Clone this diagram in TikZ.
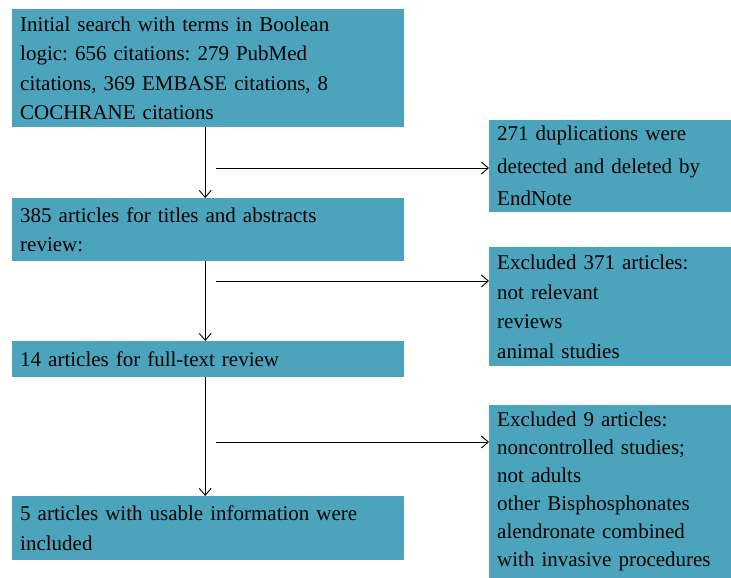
\documentclass[tikz,border=0pt]{standalone}
\usepackage{fontspec}
\setmainfont{Liberation Serif}
\usetikzlibrary{arrows.meta}
\frenchspacing

\definecolor{flowblue}{RGB}{76,164,188}

\tikzset{
  leftbox/.style={fill=flowblue, anchor=north west, align=left, inner xsep=8pt, inner ysep=0pt,
    text width=376pt, font=\fontsize{21}{29.5}\selectfont},
  rightbox/.style={fill=flowblue, anchor=north west, align=left, inner xsep=8pt, inner ysep=0pt,
    text width=226pt, font=\fontsize{21}{29.5}\selectfont},
  flowarrow/.style={line width=0.9pt, -{Straight Barb[length=7pt,width=12pt]}}
}

\begin{document}
\begin{tikzpicture}[x=1pt,y=-1pt]
        \useasboundingbox (0,0) rectangle (731,578);

        % main column
        \node[leftbox, minimum height=118pt] (search) at (12,9) {Initial search with terms in Boolean\\logic: 656 citations: 279 PubMed\\citations, 369 EMBASE citations, 8\\COCHRANE citations};
        \node[leftbox, minimum height=63pt] (titles) at (12,198) {385 articles for titles and abstracts\\review:};
        \node[leftbox, minimum height=36pt] (fulltext) at (12,341) {14 articles for full-text review};
        \node[leftbox, minimum height=64pt] (included) at (12,496) {5 articles with usable information were\\included};

        % excluded side
        \node[rightbox, minimum height=92pt, font=\fontsize{21}{32.5}\selectfont] (dupl) at (489,120) {271 duplications were\\detected and deleted by\\EndNote};
        \node[rightbox, minimum height=119pt] (excla) at (489,247) {Excluded 371 articles:\\not relevant\\reviews\\animal studies};
        \node[rightbox, minimum height=173pt, font=\fontsize{21}{28}\selectfont] (exclb) at (489,405) {Excluded 9 articles:\\noncontrolled studies;\\not adults\\other Bisphosphonates\\alendronate combined\\with invasive procedures};

        \draw[flowarrow] ([xshift=-3pt]search.south) -- ([xshift=-3pt]titles.north);
        \draw[flowarrow] ([xshift=-3pt]titles.south) -- ([xshift=-3pt]fulltext.north);
        \draw[flowarrow] ([xshift=-3pt]fulltext.south) -- ([xshift=-3pt]included.north);

        \coordinate (splita) at (216,168);
        \coordinate (splitb) at (216,281);
        \coordinate (splitc) at (216,442);
        \draw[flowarrow] (splita) -- (splita -| dupl.west);
        \draw[flowarrow] (splitb) -- (splitb -| excla.west);
        \draw[flowarrow] (splitc) -- (splitc -| exclb.west);

\end{tikzpicture}
\end{document}
